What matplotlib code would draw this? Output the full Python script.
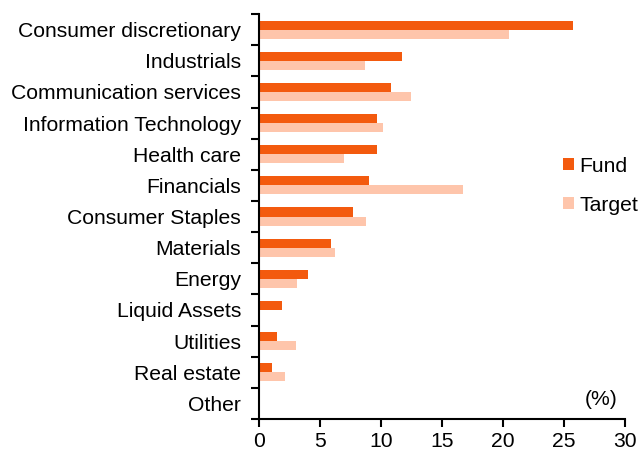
import numpy as np
import matplotlib
matplotlib.use("Agg")
import matplotlib.pyplot as plt

plt.rcParams["font.family"] = ["Liberation Sans", "DejaVu Sans"]

categories = ["Consumer discretionary", "Industrials", "Communication services",
              "Information Technology", "Health care", "Financials",
              "Consumer Staples", "Materials", "Energy", "Liquid Assets",
              "Utilities", "Real estate", "Other"]
fund = [25.7, 11.7, 10.85, 9.7, 9.7, 9.0, 7.7, 5.9, 4.0, 1.9, 1.5, 1.1, 0.0]
target = [20.5, 8.7, 12.45, 10.2, 7.0, 16.7, 8.8, 6.2, 3.1, 0.0, 3.0, 2.1, 0.1]

fund_color = "#F35A0E"
target_color = "#FEC5AB"
fs = 15.2

fig = plt.figure(figsize=(6.41, 4.53), dpi=100)
ax = fig.add_axes([0.404, 0.075, 0.571, 0.894])

y = np.arange(len(categories))
h = 0.29
ax.barh(y - h / 2, fund, height=h, color=fund_color, label="Fund")
ax.barh(y + h / 2, target, height=h, color=target_color, label="Target")

ax.set_ylim(len(categories) - 0.5, -0.5)
ax.set_xlim(0, 30)
ax.set_xticks([0, 5, 10, 15, 20, 25, 30])

# category labels without ticks, tick marks between categories
ax.set_yticks(y)
ax.set_yticklabels(categories, fontsize=fs)
ax.tick_params(axis="y", length=0, pad=13)
ax.set_yticks(np.arange(-0.5, len(categories) + 0.5, 1), minor=True)
ax.tick_params(axis="y", which="minor", length=6, width=1.5)
ax.tick_params(axis="x", length=6, width=1.5, labelsize=fs, pad=3)

for s in ["top", "right"]:
    ax.spines[s].set_visible(False)
for s in ["left", "bottom"]:
    ax.spines[s].set_linewidth(1.5)

ax.text(0.98, 0.025, "(%)", transform=ax.transAxes, ha="right", va="bottom", fontsize=fs)

fig.legend(loc="upper left", bbox_to_anchor=(0.879, 0.654), frameon=False,
           fontsize=fs, handlelength=0.52, handleheight=0.52, handletextpad=0.25,
           labelspacing=0.95, borderaxespad=0, borderpad=0)

fig.savefig("out.png", dpi=100)
